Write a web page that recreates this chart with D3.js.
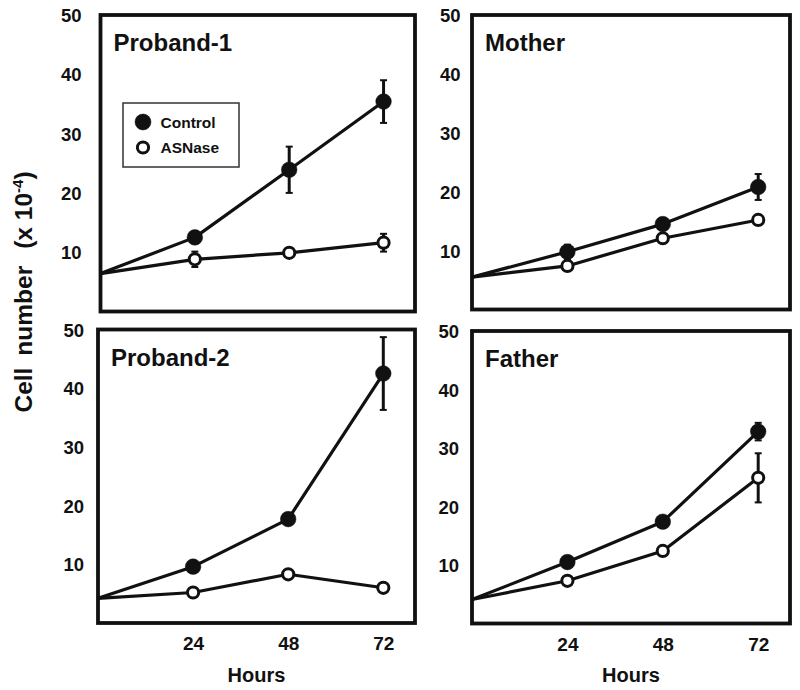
<!DOCTYPE html>
<html><head><meta charset="utf-8">
<script src="https://cdn.jsdelivr.net/npm/d3@7"></script>
<style>
body{margin:0;background:#fff;}
svg text{font-family:"Liberation Sans",Arial,sans-serif;font-weight:bold;fill:#111;}
</style></head>
<body><svg id="c" width="800" height="690"></svg>
<script>
// ---- data ----
const hours = [0, 24, 48, 72];
const xTicks = [24, 48, 72];
const yTicks = [10, 20, 30, 40, 50];
const panelNames = ["Proband-1", "Mother", "Proband-2", "Father"];
const seriesNames = ["Control", "ASNase"];

const controlProband1 = [6.4, 12.5, 23.9, 35.4];
const controlProband1Err = [0, 0.8, 3.9, 3.6];
const asnaseProband1 = [6.4, 8.8, 9.9, 11.6];
const asnaseProband1Err = [0, 1.3, 0.6, 1.5];

const controlMother = [5.5, 9.8, 14.5, 20.8];
const controlMotherErr = [0, 1.2, 0.8, 2.2];
const asnaseMother = [5.5, 7.4, 12.1, 15.2];
const asnaseMotherErr = [0, 0.6, 0.6, 0.8];

const controlProband2 = [4.2, 9.6, 17.7, 42.5];
const controlProband2Err = [0, 0.8, 0.8, 6.2];
const asnaseProband2 = [4.2, 5.2, 8.3, 6.0];
const asnaseProband2Err = [0, 0.5, 0.6, 0.5];

const controlFather = [4.1, 10.5, 17.4, 32.8];
const controlFatherErr = [0, 1.0, 0.8, 1.5];
const asnaseFather = [4.1, 7.3, 12.4, 24.9];
const asnaseFatherErr = [0, 0.6, 0.6, 4.2];

const panelData = [
  [[controlProband1, controlProband1Err], [asnaseProband1, asnaseProband1Err]],
  [[controlMother, controlMotherErr], [asnaseMother, asnaseMotherErr]],
  [[controlProband2, controlProband2Err], [asnaseProband2, asnaseProband2Err]],
  [[controlFather, controlFatherErr], [asnaseFather, asnaseFatherErr]]
];

// ---- layout ----
const layout = [
  {l: 100.5, r: 415, t: 15, b: 311.5, lab: 19, xAxis: false, legend: true},
  {l: 472, r: 790, t: 15, b: 309.5, lab: 11.5, xAxis: false, legend: false},
  {l: 98, r: 415, t: 329.5, b: 623, lab: 14, xAxis: true, legend: false},
  {l: 472, r: 790, t: 331, b: 623.5, lab: 13, xAxis: true, legend: false}
];

const svg = d3.select("#c");
const ink = "#111";

layout.forEach((p, i) => {
  const x = d3.scaleLinear().domain([0, 80]).range([p.l, p.r]);
  const y = d3.scaleLinear().domain([0, 50]).range([p.b, p.t]);
  const g = svg.append("g");

  // y axis labels
  const ya = g.append("g").attr("transform", `translate(${p.l - p.lab + 9},0)`)
    .call(d3.axisLeft(y).tickValues(yTicks).tickSize(0).tickPadding(9).tickFormat(d3.format("d")));
  ya.select(".domain").remove();
  ya.selectAll("text").attr("font-size", 18.5).attr("font-family", null).attr("fill", ink).attr("dy", "0.36em");

  if (p.xAxis) {
    const xa = g.append("g").attr("transform", `translate(0,${p.b})`)
      .call(d3.axisBottom(x).tickValues(xTicks).tickSize(0).tickPadding(14).tickFormat(d3.format("d")));
    xa.select(".domain").remove();
    xa.selectAll("text").attr("font-size", 19).attr("font-family", null).attr("fill", ink);
    g.append("text").attr("x", (p.l + p.r) / 2).attr("y", 682)
      .attr("text-anchor", "middle").attr("font-size", 20).text("Hours");
  }

  // frame
  g.append("rect").attr("x", p.l).attr("y", p.t).attr("width", p.r - p.l).attr("height", p.b - p.t)
    .attr("fill", "none").attr("stroke", ink).attr("stroke-width", 3.8);

  // title
  g.append("text").attr("x", p.l + 13).attr("y", p.t + 36).attr("font-size", 24).text(panelNames[i]);

  const line = d3.line().x((d, k) => x(hours[k])).y(d => y(d));

  // draw ASNase first then Control
  [1, 0].forEach(s => {
    const [vals] = panelData[i][s];
    g.append("path").datum(vals).attr("d", line).attr("fill", "none")
      .attr("stroke", ink).attr("stroke-width", 3.2).attr("stroke-linejoin", "round");
  });
  [1, 0].forEach(s => {
    const [vals, errs] = panelData[i][s];
    vals.forEach((v, k) => {
      if (k === 0 || errs[k] <= 0) return;
      const cx = x(hours[k]);
      g.append("line").attr("x1", cx).attr("x2", cx).attr("y1", y(v - errs[k])).attr("y2", y(v + errs[k]))
        .attr("stroke", ink).attr("stroke-width", 3);
      [v - errs[k], v + errs[k]].forEach(e => {
        g.append("line").attr("x1", cx - 3.5).attr("x2", cx + 3.5).attr("y1", y(e)).attr("y2", y(e))
          .attr("stroke", ink).attr("stroke-width", 2);
      });
    });
  });
  [1, 0].forEach(s => {
    const [vals] = panelData[i][s];
    g.selectAll(null).data(vals.slice(1)).enter().append("circle")
      .attr("cx", (d, k) => x(hours[k + 1])).attr("cy", d => y(d))
      .attr("r", s === 0 ? 7.8 : 5.6)
      .attr("fill", s === 0 ? ink : "#fff")
      .attr("stroke", ink).attr("stroke-width", s === 0 ? 0.5 : 3);
  });

  if (p.legend) {
    const lg = g.append("g");
    lg.append("rect").attr("x", 123).attr("y", 103).attr("width", 116).attr("height", 64)
      .attr("fill", "#fff").attr("stroke", "#333").attr("stroke-width", 1.5);
    seriesNames.forEach((nm, s) => {
      const cy = 122 + s * 25.5;
      lg.append("circle").attr("cx", 143).attr("cy", cy).attr("r", s === 0 ? 8 : 5.6)
        .attr("fill", s === 0 ? ink : "#fff").attr("stroke", ink).attr("stroke-width", s === 0 ? 0.5 : 3);
      lg.append("text").attr("x", 160.5).attr("y", cy + 5.5).attr("font-size", 15.5).text(nm);
    });
  }
});

// y-axis title
const yt = svg.append("text").attr("transform", "translate(32,292) rotate(-90)")
  .attr("text-anchor", "middle").attr("font-size", 24.5);
yt.append("tspan").text("Cell");
yt.append("tspan").attr("dx", 12).text("number");
yt.append("tspan").attr("dx", 17).text("(x 10");
yt.append("tspan").attr("dy", -9).attr("font-size", 15).text("-4");
yt.append("tspan").attr("dy", 9).text(")");
</script></body></html>
